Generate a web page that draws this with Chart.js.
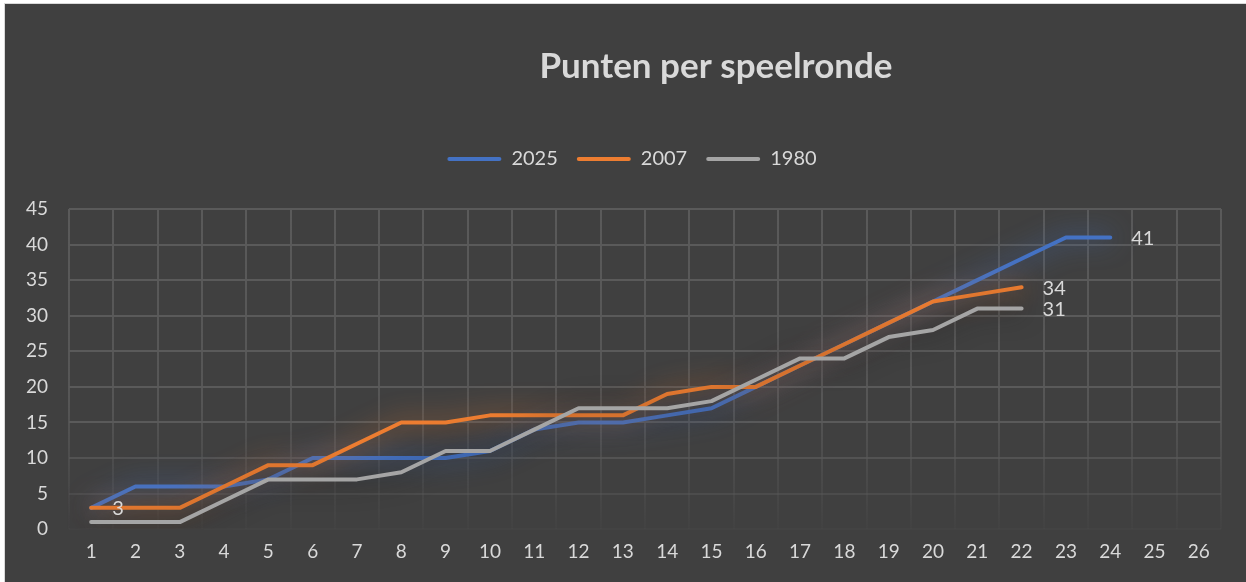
<!DOCTYPE html>
<html>
<head>
<meta charset="utf-8">
<script src="https://cdn.jsdelivr.net/npm/chart.js@4/dist/chart.umd.min.js"></script>
<style>
  html, body { margin: 0; padding: 0; background: #fff; }
  #wrap { position: absolute; left: 4px; top: 3px; width: 1242px; height: 579px;
          background: #404040; border-left: 1px solid #d9d9d9; border-top: 1px solid #d9d9d9; }
</style>
</head>
<body>
<div id="wrap"><canvas id="chart"></canvas></div>
<script>
const rounds = ['1','2','3','4','5','6','7','8','9','10','11','12','13','14','15','16','17','18','19','20','21','22','23','24','25','26'];
const pts2025 = [3, 6, 6, 6, 7, 10, 10, 10, 10, 11, 14, 15, 15, 16, 17, 20, 23, 26, 29, 32, 35, 38, 41, 41];
const pts2007 = [3, 3, 3, 6, 9, 9, 12, 15, 15, 16, 16, 16, 16, 19, 20, 20, 23, 26, 29, 32, 33, 34];
const pts1980 = [1, 1, 1, 4, 7, 7, 7, 8, 11, 11, 14, 17, 17, 17, 18, 21, 24, 24, 27, 28, 31, 31];
const yTicks  = [0, 5, 10, 15, 20, 25, 30, 35, 40, 45];

// which points carry a value label: [datasetIndex, pointIndex]
const labelled = [[0, 0], [0, 23], [1, 21], [2, 21]];

const txt = '#d9d9d9';
const font = 'Lato, "Open Sans", sans-serif';

// soft glow under each line
const glow = {
  id: 'glow',
  beforeDatasetDraw(chart, args) {
    const ds = chart.data.datasets[args.index];
    const c = chart.ctx;
    c.save();
    c.shadowColor = ds.glow;
    c.shadowBlur = 26;
  },
  afterDatasetDraw(chart) { chart.ctx.restore(); }
};

const valueLabels = {
  id: 'valueLabels',
  afterDatasetsDraw(chart) {
    const c = chart.ctx;
    c.save();
    c.fillStyle = txt;
    c.font = '20px ' + font;
    c.textAlign = 'left';
    c.textBaseline = 'middle';
    labelled.forEach(([d, i]) => {
      const p = chart.getDatasetMeta(d).data[i];
      c.fillText(String(chart.data.datasets[d].data[i]), p.x + 21, p.y + 1);
    });
    c.restore();
  }
};

// extra room under the legend, and the title/legend sit a bit right of centre
const boxes = {
  id: 'boxes',
  beforeInit(chart) {
    const fit = chart.legend.fit;
    chart.legend.fit = function () { fit.bind(this)(); this.height += 30; };
  },
  afterLayout(chart) {
    chart.titleBlock.left += 103; chart.titleBlock.right += 103;
    chart.legend.left += 19; chart.legend.right += 19;
  }
};

function yGridColor(ctx) {
  const v = ctx.tick ? ctx.tick.value : 45;
  if (v === 0) return 'rgba(90,90,90,0.15)';
  if (v === 5) return 'rgba(90,90,90,0.45)';
  if (v === 10) return 'rgba(90,90,90,0.75)';
  return '#5a5a5a';
}

function xGridColor(ctx) {
  const ch = ctx.chart;
  const a = ch.chartArea;
  if (!a) return '#5a5a5a';
  const g = ch.ctx.createLinearGradient(0, a.top, 0, a.bottom);
  g.addColorStop(0, '#5a5a5a');
  g.addColorStop(0.6, '#565656');
  g.addColorStop(1, '#424242');
  return g;
}

new Chart(document.getElementById('chart'), {
  type: 'line',
  data: {
    labels: rounds,
    datasets: [
      { label: '2025', data: pts2025, borderColor: '#4472C4', backgroundColor: '#4472C4', glow: 'rgba(68,114,196,1)', order: 2 },
      { label: '2007', data: pts2007, borderColor: '#ED7D31', backgroundColor: '#ED7D31', glow: 'rgba(237,125,49,0.9)', order: 1 },
      { label: '1980', data: pts1980, borderColor: '#A5A5A5', backgroundColor: '#A5A5A5', glow: 'rgba(25,25,25,0.9)', order: 0 }
    ].map(d => ({ ...d, borderWidth: 4, pointRadius: 0, tension: 0, fill: false, borderCapStyle: 'round', borderJoinStyle: 'round' }))
  },
  options: {
    responsive: true,
    maintainAspectRatio: false,
    animation: false,
    layout: { padding: { left: 0, right: 26, top: 0, bottom: 9 } },
    plugins: {
      title: {
        display: true, text: 'Punten per speelronde', color: txt,
        font: { family: font, size: 35, weight: 'bold' },
        padding: { top: 42, bottom: 42 }
      },
      legend: {
        display: true,
        labels: {
          color: txt, font: { family: font, size: 20 }, boxWidth: 54, boxHeight: 4, padding: 19,
          useBorderRadius: true, borderRadius: 2,
          generateLabels: (chart) => Chart.defaults.plugins.legend.labels.generateLabels(chart)
            .map(i => ({ ...i, lineWidth: 0 }))
            .sort((a, b) => a.datasetIndex - b.datasetIndex)
        }
      },
      tooltip: { enabled: false }
    },
    scales: {
      x: {
        offset: true,
        grid: { offset: true, color: xGridColor, lineWidth: 2, drawTicks: false },
        border: { display: false },
        ticks: { color: txt, font: { family: font, size: 19 }, padding: 11, maxRotation: 0, autoSkip: false }
      },
      y: {
        min: 0, max: 45,
        afterBuildTicks: (s) => { s.ticks = yTicks.map(v => ({ value: v })); },
        afterFit: (s) => { s.width = 64; },
        grid: { color: yGridColor, lineWidth: 2, drawTicks: false },
        border: { display: false },
        ticks: { color: txt, font: { family: font, size: 19 }, padding: 21 }
      }
    }
  },
  plugins: [glow, valueLabels, boxes]
});
</script>
</body>
</html>
